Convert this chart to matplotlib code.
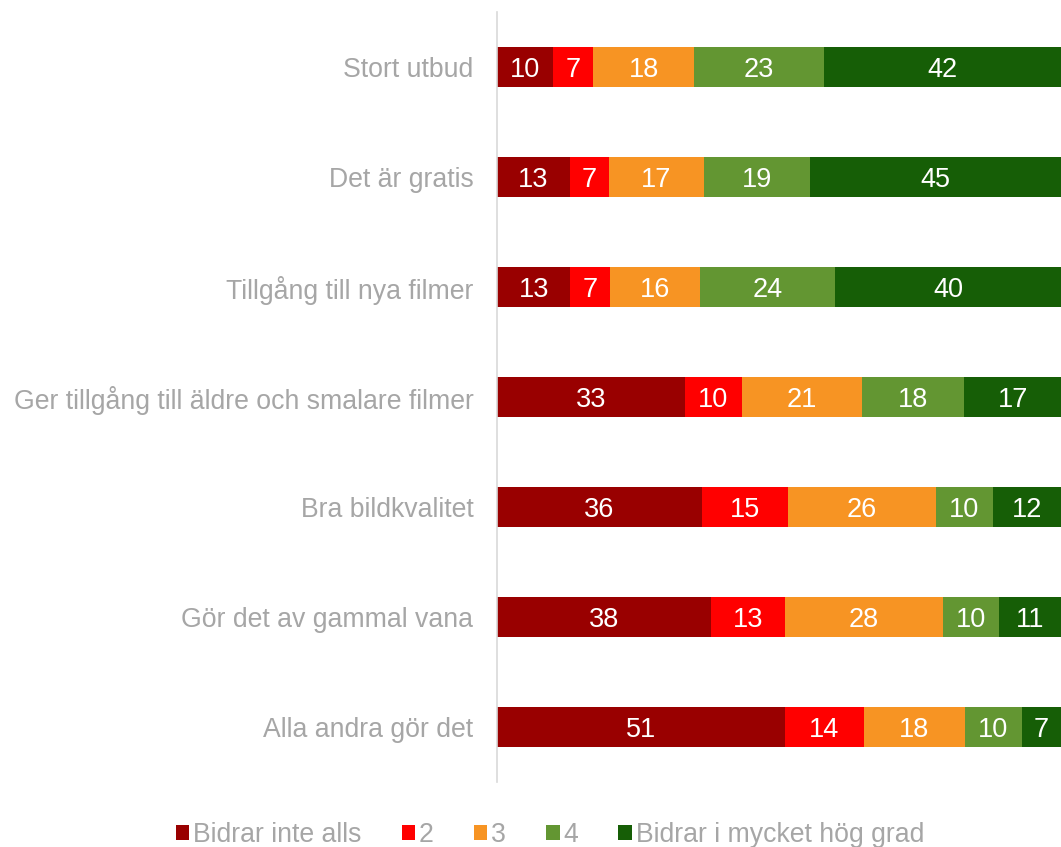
import matplotlib
matplotlib.use("Agg")
from matplotlib import pyplot as plt
from matplotlib.patches import Patch

# Data
categories = ["Stort utbud", "Det är gratis", "Tillgång till nya filmer",
              "Ger tillgång till äldre och smalare filmer", "Bra bildkvalitet",
              "Gör det av gammal vana", "Alla andra gör det"]
series_names = ["Bidrar inte alls", "2", "3", "4", "Bidrar i mycket hög grad"]
s1 = [10, 13, 13, 33, 36, 38, 51]
s2 = [7, 7, 7, 10, 15, 13, 14]
s3 = [18, 17, 16, 21, 26, 28, 18]
s4 = [23, 19, 24, 18, 10, 10, 10]
s5 = [42, 45, 40, 17, 12, 11, 7]

colors = ["#990000", "#FF0000", "#F79423", "#639632", "#165E06"]
label_color = "#A6A6A6"

plt.rcParams["font.family"] = ["Liberation Sans", "DejaVu Sans"]

fig = plt.figure(figsize=(10.61, 8.47), dpi=100)
ax = fig.add_axes([497 / 1061, 65 / 847, 564 / 1061, 770 / 847])

all_series = [s1, s2, s3, s4, s5]
# 100% stacked: each row is scaled to its own total
totals = [sum(row) for row in zip(*all_series)]

ypos = list(range(len(categories)))
left = [0] * len(categories)
for vals, col in zip(all_series, colors):
    widths = [v / t * 100 for v, t in zip(vals, totals)]
    ax.barh(ypos, widths, left=left, height=0.36, color=col, edgecolor="none")
    for y, v, w, l in zip(ypos, vals, widths, left):
        ax.text(l + w / 2, y, str(v), ha="center", va="center_baseline",
                color="white", fontsize=19.5)
    left = [a + b for a, b in zip(left, widths)]

ax.set_xlim(0, 100)
ax.set_ylim(len(categories) - 0.5, -0.5)
ax.set_yticks(ypos)
ax.set_yticklabels(categories, fontsize=19.2, color=label_color)
ax.tick_params(axis="y", length=0, pad=17)
ax.set_xticks([])
for side in ["top", "right", "bottom"]:
    ax.spines[side].set_visible(False)
ax.spines["left"].set_color("#D9D9D9")
ax.spines["left"].set_linewidth(1.2)

# Legend
handles = [Patch(facecolor=c, edgecolor="none") for c in colors]
leg = fig.legend(handles, series_names, loc="center", ncol=5,
                 bbox_to_anchor=(550 / 1061, 12 / 847), frameon=False,
                 fontsize=19.2, handlelength=0.5, handleheight=0.5,
                 handletextpad=0.15, columnspacing=1.5,
                 labelcolor=label_color)

plt.savefig("out.png", dpi=100)
